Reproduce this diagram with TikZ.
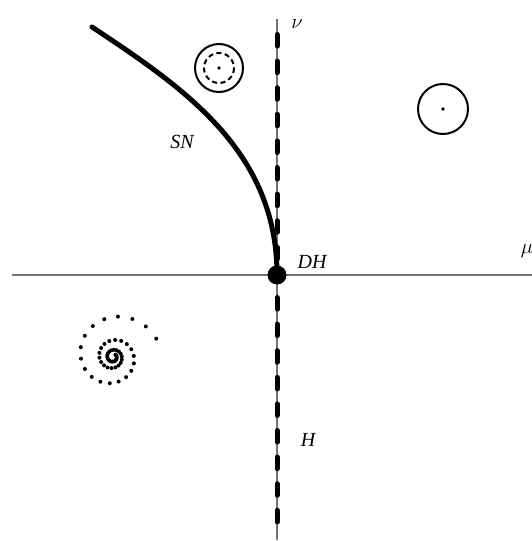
\documentclass[tikz,border=0pt]{standalone}
\usepackage{fontspec}
\setmainfont{Liberation Serif}
\usetikzlibrary{calc}
\begin{document}
\begin{tikzpicture}[x=1pt,y=-1pt,
  axis/.style={draw=black!55,line width=1.2pt},
  branch/.style={line width=5pt,line cap=round,dash pattern=on 11.6pt off 15pt},
  lbl/.style={font=\fontsize{20}{20}\selectfont\itshape,inner sep=0pt},
  orbit/.style={draw,line width=2pt},
  cdot/.style={circle,fill,inner sep=0pt,minimum size=3.6pt}]
\useasboundingbox (0,0) rectangle (532,541);
% axes
\coordinate (xl) at (12,275);
\coordinate (xr) at (532,275);
\coordinate (yt) at (277,19);
\coordinate (yb) at (277,540);
\draw[axis] (xl) -- (xr);
\draw[axis] (yt) -- (yb);
% dashed Hopf line
\coordinate (ht) at (277,34.5);
\coordinate (hm) at (277,268);
\coordinate (hb1) at (277,297.5);
\coordinate (hb2) at (277,525);
\draw[branch] (ht) -- (hm);
\draw[branch] (hb1) -- (hb2);
% SN curve
\coordinate (sn0) at (92,27);
\draw[line width=5pt,line cap=round] (sn0) .. controls (184,88) and (277,151) .. (277,275);
% DH point
\node[circle,fill,inner sep=0pt,minimum size=19pt] (dh) at (277,275) {};
% labels
\node[lbl] (nu) at (297,24) {$\nu$};
\node[lbl] (mu) at (527,251) {$\mu$};
\node[lbl] (sn) at (182,142) {SN};
\node[lbl] (dhl) at (312,262) {DH};
\node[lbl] (hl) at (308,440) {H};
% phase portraits
\node[orbit,circle,minimum size=48pt,inner sep=0pt] (c1) at (219,68) {};
\draw[line width=2pt,dash pattern=on 5pt off 3.5pt] (c1.center) circle (15);
\node[cdot] at (c1.center) {};
\node[orbit,circle,minimum size=50pt,inner sep=0pt] (c2) at (443,109) {};
\node[cdot] at (c2.center) {};
% spiral
\coordinate (sc) at (113,357);
\foreach \i in {0,...,55} {
  \pgfmathsetmacro\t{23+20*\i}
  \pgfmathsetmacro\r{47*exp(-0.00239*(\t-23))}
  \fill ($(sc)+({\r*cos(\t)},{-\r*sin(\t)})$) circle (2);
}
\end{tikzpicture}
\end{document}
